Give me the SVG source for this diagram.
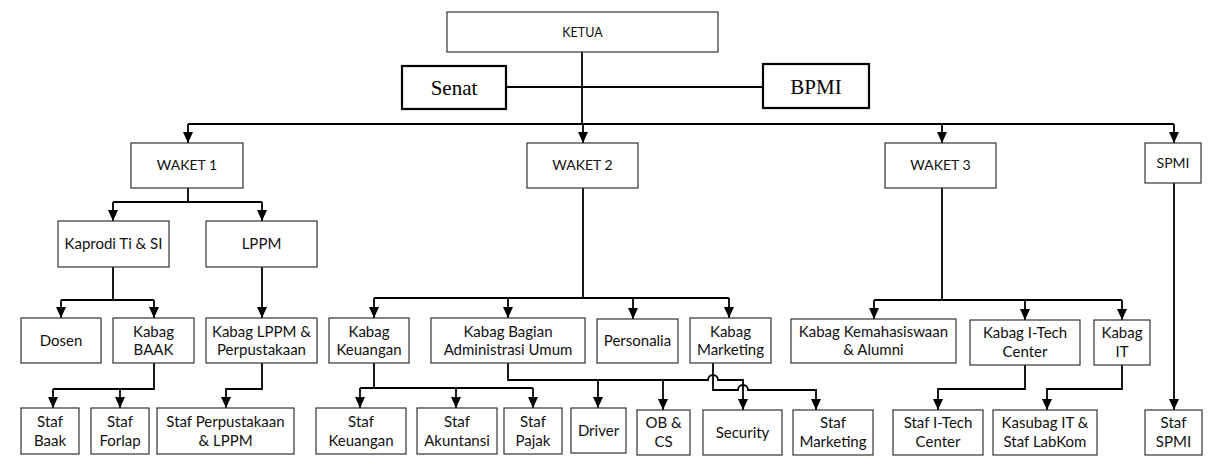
<svg xmlns="http://www.w3.org/2000/svg" width="1221" height="469" viewBox="0 0 1221 469">
<defs>
<marker id="arr" viewBox="0 0 11 10" refX="11" refY="5" markerWidth="11" markerHeight="10" markerUnits="userSpaceOnUse" orient="auto">
<path d="M0,0 L11,5 L0,10 z" fill="#000"/>
</marker>
<style>
.b{fill:#fff;stroke:#333;stroke-width:1.2}
.bt{fill:#fff;stroke:#000;stroke-width:2.2}
.t{font-family:Lato,"Liberation Sans",sans-serif;font-size:15px;fill:#111;text-anchor:middle}
.s{font-family:"Liberation Serif","Times New Roman",serif;font-size:21px;fill:#000;text-anchor:middle}
.c path{fill:none;stroke:#000;stroke-width:1.8}
.c path.a{marker-end:url(#arr)}
</style>
</defs>
<rect width="1221" height="469" fill="#fff"/>

<g class="c" id="connectors">
<path d="M582,52 V124"/>
<path d="M506,87 H763"/>
<path d="M188,124 H1174"/>
<path class="a" d="M188,124 V143"/>
<path class="a" d="M583,124 V143"/>
<path class="a" d="M942,124 V143"/>
<path class="a" d="M1174,124 V143"/>
<path d="M188,188 V202 M113,202 H262"/>
<path class="a" d="M113,202 V221"/>
<path class="a" d="M262,202 V221"/>
<path d="M113,267 V300 M61,300 H154"/>
<path class="a" d="M61,300 V318"/>
<path class="a" d="M154,300 V318"/>
<path class="a" d="M262,267 V318"/>
<path d="M154,363 V389 H53"/>
<path class="a" d="M53,389 V408"/>
<path class="a" d="M120,389 V408"/>
<path class="a" d="M262,363 V389 H226 V408"/>
<path d="M583,188 V298 M374,298 H729"/>
<path class="a" d="M374,298 V318"/>
<path class="a" d="M508,298 V318"/>
<path class="a" d="M633,298 V319"/>
<path class="a" d="M729,298 V318"/>
<path d="M374,363 V388 M360,388 H533"/>
<path class="a" d="M360,388 V408"/>
<path class="a" d="M456,388 V408"/>
<path class="a" d="M533,388 V408"/>
<path class="a" d="M508,363 V380 H708 A5,5 0 0 1 718,380 H743 V410"/>
<path class="a" d="M598,380 V408"/>
<path class="a" d="M663,380 V410"/>
<path class="a" d="M713,363 V390 H738 A5,5 0 0 1 748,390 H816 V410"/>
<path d="M942,188 V300 M874,300 H1122"/>
<path class="a" d="M874,300 V319"/>
<path class="a" d="M1025,300 V320"/>
<path class="a" d="M1122,300 V320"/>
<path class="a" d="M1025,365 V389 H938 V410"/>
<path class="a" d="M1122,365 V389 H1047 V410"/>
<path class="a" d="M1174,183 V410"/>
</g>

<g id="ketua"><rect class="b" x="447" y="12" width="271" height="40"/><text class="t" x="582.5" y="37" style="font-size:12.5px">KETUA</text></g>
<g id="senat"><rect class="bt" x="402" y="66" width="104" height="43"/><text class="s" x="454" y="95">Senat</text></g>
<g id="bpmi"><rect class="bt" x="763" y="64" width="106" height="44"/><text class="s" x="816" y="94">BPMI</text></g>

<g id="waket1"><rect class="b" x="131" y="143" width="112" height="45"/><text class="t" x="187" y="170" style="font-size:14px">WAKET 1</text></g>
<g id="waket2"><rect class="b" x="527" y="143" width="111" height="45"/><text class="t" x="582.5" y="170" style="font-size:14px">WAKET 2</text></g>
<g id="waket3"><rect class="b" x="885" y="143" width="111" height="45"/><text class="t" x="940.5" y="170" style="font-size:14px">WAKET 3</text></g>
<g id="spmi"><rect class="b" x="1145" y="143" width="56" height="40"/><text class="t" x="1173" y="168" style="font-size:14px">SPMI</text></g>

<g id="kaprodi"><rect class="b" x="58" y="221" width="111" height="46"/><text class="t" x="113.5" y="249">Kaprodi Ti &amp; SI</text></g>
<g id="lppm"><rect class="b" x="206" y="221" width="111" height="46"/><text class="t" x="261.5" y="249">LPPM</text></g>

<g id="dosen"><rect class="b" x="21" y="318" width="80" height="45"/><text class="t" x="61" y="346">Dosen</text></g>
<g id="kabag-baak"><rect class="b" x="113" y="318" width="81" height="45"/><text class="t" x="153.5" y="337">Kabag</text><text class="t" x="153.5" y="355">BAAK</text></g>
<g id="kabag-lppm"><rect class="b" x="206" y="318" width="111" height="45"/><text class="t" x="261.5" y="337">Kabag LPPM &amp;</text><text class="t" x="261.5" y="355">Perpustakaan</text></g>
<g id="kabag-keuangan"><rect class="b" x="329" y="318" width="80" height="45"/><text class="t" x="369" y="337">Kabag</text><text class="t" x="369" y="355">Keuangan</text></g>
<g id="kabag-admin"><rect class="b" x="431" y="318" width="154" height="45"/><text class="t" x="508" y="337">Kabag Bagian</text><text class="t" x="508" y="355">Administrasi Umum</text></g>
<g id="personalia"><rect class="b" x="597" y="319" width="81" height="44"/><text class="t" x="637.5" y="346">Personalia</text></g>
<g id="kabag-marketing"><rect class="b" x="690" y="318" width="81" height="45"/><text class="t" x="730.5" y="337">Kabag</text><text class="t" x="730.5" y="355">Marketing</text></g>
<g id="kabag-kemahasiswaan"><rect class="b" x="791" y="319" width="165" height="44"/><text class="t" x="873.5" y="337">Kabag Kemahasiswaan</text><text class="t" x="873.5" y="355">&amp; Alumni</text></g>
<g id="kabag-itech"><rect class="b" x="970" y="320" width="110" height="45"/><text class="t" x="1025" y="338">Kabag I-Tech</text><text class="t" x="1025" y="357">Center</text></g>
<g id="kabag-it"><rect class="b" x="1094" y="320" width="56" height="45"/><text class="t" x="1122" y="338">Kabag</text><text class="t" x="1122" y="357">IT</text></g>

<g id="staf-baak"><rect class="b" x="21" y="408" width="58" height="46"/><text class="t" x="50" y="427">Staf</text><text class="t" x="50" y="446">Baak</text></g>
<g id="staf-forlap"><rect class="b" x="91" y="408" width="58" height="46"/><text class="t" x="120" y="427">Staf</text><text class="t" x="120" y="446">Forlap</text></g>
<g id="staf-perpustakaan"><rect class="b" x="157" y="408" width="137" height="46"/><text class="t" x="225.5" y="427">Staf Perpustakaan</text><text class="t" x="225.5" y="446">&amp; LPPM</text></g>
<g id="staf-keuangan"><rect class="b" x="316" y="408" width="90" height="46"/><text class="t" x="361" y="427">Staf</text><text class="t" x="361" y="446">Keuangan</text></g>
<g id="staf-akuntansi"><rect class="b" x="417" y="408" width="80" height="46"/><text class="t" x="457" y="427">Staf</text><text class="t" x="457" y="446">Akuntansi</text></g>
<g id="staf-pajak"><rect class="b" x="504" y="408" width="58" height="46"/><text class="t" x="533" y="427">Staf</text><text class="t" x="533" y="446">Pajak</text></g>
<g id="driver"><rect class="b" x="571" y="408" width="55" height="45"/><text class="t" x="598.5" y="436">Driver</text></g>
<g id="ob-cs"><rect class="b" x="637" y="410" width="53" height="45"/><text class="t" x="663.5" y="428">OB &amp;</text><text class="t" x="663.5" y="447">CS</text></g>
<g id="security"><rect class="b" x="703" y="410" width="79" height="45"/><text class="t" x="742.5" y="438">Security</text></g>
<g id="staf-marketing"><rect class="b" x="793" y="410" width="80" height="45"/><text class="t" x="833" y="428">Staf</text><text class="t" x="833" y="447">Marketing</text></g>
<g id="staf-itech"><rect class="b" x="893" y="410" width="90" height="45"/><text class="t" x="938" y="428">Staf I-Tech</text><text class="t" x="938" y="447">Center</text></g>
<g id="kasubag-it"><rect class="b" x="993" y="410" width="104" height="45"/><text class="t" x="1045" y="428">Kasubag IT &amp;</text><text class="t" x="1045" y="447">Staf LabKom</text></g>
<g id="staf-spmi"><rect class="b" x="1145" y="410" width="57" height="45"/><text class="t" x="1173.5" y="428">Staf</text><text class="t" x="1173.5" y="447">SPMI</text></g>
</svg>
